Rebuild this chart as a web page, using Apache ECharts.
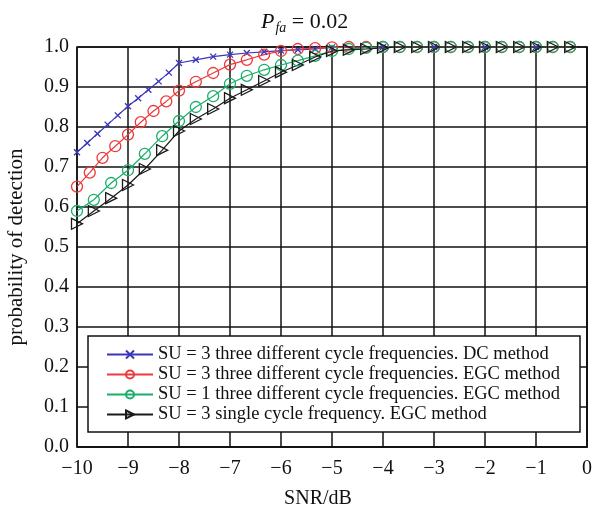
<!DOCTYPE html>
<html>
<head>
<meta charset="utf-8">
<script src="https://cdn.jsdelivr.net/npm/echarts@6/dist/echarts.min.js"></script>
<style>
  html, body { margin: 0; padding: 0; background: #fff; }
  #grafico { width: 593px; height: 511px; }
</style>
</head>
<body>
<div id="grafico"></div>
<script>
// Datos
const nombres = [
    'SU = 3 three different cycle frequencies. DC method',
    'SU = 3 three different cycle frequencies. EGC method',
    'SU = 1 three different cycle frequencies. EGC method',
    'SU = 3 single cycle frequency. EGC method'
];

// SU=3, DC
const xDC = [-10, -9.8, -9.6, -9.4, -9.2, -9, -8.8, -8.6, -8.4, -8.2, -8,
    -7.67, -7.33, -7, -6.67, -6.33, -6, -5.67, -5.33, -5, -4, -3, -2, -1];
const yDC = [0.737, 0.76, 0.783, 0.806, 0.829, 0.852, 0.872, 0.893, 0.914, 0.936, 0.96,
    0.968, 0.976, 0.981, 0.985, 0.988, 0.991, 0.993, 0.995, 0.999, 1, 1, 1, 1];

// SU=3, EGC
const xEGC3 = [-10, -9.75, -9.5, -9.25, -9, -8.75, -8.5, -8.25, -8,
    -7.67, -7.33, -7, -6.67, -6.33, -6, -5.67, -5.33, -5, -4.67, -4.33, -4,
    -3.67, -3.33, -3, -2.67, -2.33, -2, -1.67, -1.33, -1, -0.67, -0.33];
const yEGC3 = [0.651, 0.686, 0.723, 0.752, 0.781, 0.812, 0.84, 0.864, 0.891,
    0.913, 0.935, 0.956, 0.968, 0.981, 0.99, 0.995, 0.997, 0.999, 1, 1, 1,
    1, 1, 1, 1, 1, 1, 1, 1, 1, 1, 1];

// SU=1, EGC
const xEGC1 = [-10, -9.67, -9.33, -9, -8.67, -8.33, -8, -7.67, -7.33, -7, -6.67, -6.33,
    -6, -5.67, -5.33, -5, -4.67, -4.33, -4, -3.67, -3.33, -3, -2.67, -2.33, -2,
    -1.67, -1.33, -1, -0.67, -0.33];
const yEGC1 = [0.59, 0.618, 0.66, 0.692, 0.733, 0.777, 0.815, 0.85, 0.877, 0.908, 0.928, 0.943,
    0.955, 0.966, 0.978, 0.99, 0.995, 0.998, 1, 1, 1, 1, 1, 1, 1,
    1, 1, 1, 1, 1];

// SU=3, una frecuencia ciclica
const xUna = [-10, -9.67, -9.33, -9, -8.67, -8.33, -8, -7.67, -7.33, -7, -6.67, -6.33,
    -6, -5.67, -5.33, -5, -4.67, -4.33, -4, -3.67, -3.33, -3, -2.67, -2.33, -2,
    -1.67, -1.33, -1, -0.67, -0.33];
const yUna = [0.558, 0.59, 0.622, 0.655, 0.695, 0.742, 0.79, 0.82, 0.845, 0.872, 0.893, 0.915,
    0.937, 0.955, 0.975, 0.99, 0.993, 0.995, 0.998, 1, 1, 1, 1, 1, 1,
    1, 1, 1, 1, 1];

const fuente = 'Liberation Serif';

// Unir x e y en pares
function pares(xs, ys) {
    return xs.map((x, i) => [x, ys[i]]);
}

function serie(nombre, color, simbolo, tam, xs, ys) {
    return {
        name: nombre,
        type: 'line',
        data: pares(xs, ys),
        symbol: simbolo,
        symbolSize: tam,
        showAllSymbol: true,
        color: color,
        lineStyle: { color: color, width: 1.2 },
        itemStyle: { color: 'none', borderColor: color, borderWidth: 1.3 },
        emphasis: { disabled: true },
        animation: false,
        z: 3
    };
}

function crearGrafico() {
    return {
        animation: false,
        title: {
            text: '{p|P}{s|fa}{n| = 0.02}',
            left: 256,
            top: 4,
            textStyle: {
                fontWeight: 'normal',
                rich: {
                    p: { fontFamily: fuente, fontSize: 22, fontStyle: 'italic', fontWeight: 'normal', color: '#111' },
                    s: { fontFamily: fuente, fontSize: 14, fontStyle: 'italic', fontWeight: 'normal', color: '#111', padding: [12, 0, 0, 1] },
                    n: { fontFamily: fuente, fontSize: 22, fontWeight: 'normal', color: '#111' }
                }
            }
        },
        grid: {
            left: 77, right: 6, top: 47, bottom: 64,
            outerBoundsMode: 'none',
            containLabel: false,
            show: true, borderColor: '#111', borderWidth: 1.5
        },
        xAxis: {
            type: 'value',
            min: -10,
            max: 0,
            interval: 1,
            name: 'SNR/dB',
            nameLocation: 'middle',
            nameGap: 42,
            nameTextStyle: { fontFamily: fuente, fontSize: 20, color: '#111', padding: [0, 28, 0, 0] },
            axisLine: { show: true, lineStyle: { color: '#111', width: 1.5 } },
            axisTick: { show: false },
            splitLine: { show: true, lineStyle: { color: '#111', width: 1.5 } },
            axisLabel: {
                fontFamily: fuente, fontSize: 20, color: '#111', margin: 12,
                formatter: v => String(v).replace('-', '\u2212')
            }
        },
        yAxis: {
            type: 'value',
            min: 0,
            max: 1,
            interval: 0.1,
            name: 'probability of detection',
            nameLocation: 'middle',
            nameGap: 50,
            nameTextStyle: { fontFamily: fuente, fontSize: 21, color: '#111' },
            axisLine: { show: true, lineStyle: { color: '#111', width: 1.5 } },
            axisTick: { show: false },
            splitLine: { show: true, lineStyle: { color: '#111', width: 1.5 } },
            axisLabel: {
                fontFamily: fuente, fontSize: 20, color: '#111', margin: 8,
                formatter: v => v.toFixed(1)
            }
        },
        graphic: [{
            type: 'rect',
            z: 50,
            shape: { x: 88, y: 336, width: 492, height: 96 },
            style: { fill: '#fff', stroke: '#111', lineWidth: 1.5 }
        }],
        legend: {
            orient: 'vertical',
            left: 106,
            top: 343,
            z: 60,
            itemWidth: 46,
            itemHeight: 10,
            itemGap: 1,
            padding: [2, 0, 0, 0],
            textStyle: { fontFamily: fuente, fontSize: 18.5, color: '#111', lineHeight: 17 },
            data: nombres
        },
        series: [
            serie(nombres[0], '#3b36b8', 'path://M0,0L10,10M10,0L0,10', 6, xDC, yDC),
            serie(nombres[1], '#ec3a3a', 'circle', 11, xEGC3, yEGC3),
            serie(nombres[2], '#1aae6a', 'circle', 11, xEGC1, yEGC1),
            serie(nombres[3], '#1a1a1a', 'path://M0,0L10,5L0,10Z', 11, xUna, yUna)
        ]
    };
}

function iniciar() {
    const chartDom = document.getElementById('grafico');
    const myChart = echarts.init(chartDom, null, { renderer: 'canvas' });
    myChart.setOption(crearGrafico());
}

iniciar();
</script>
</body>
</html>
